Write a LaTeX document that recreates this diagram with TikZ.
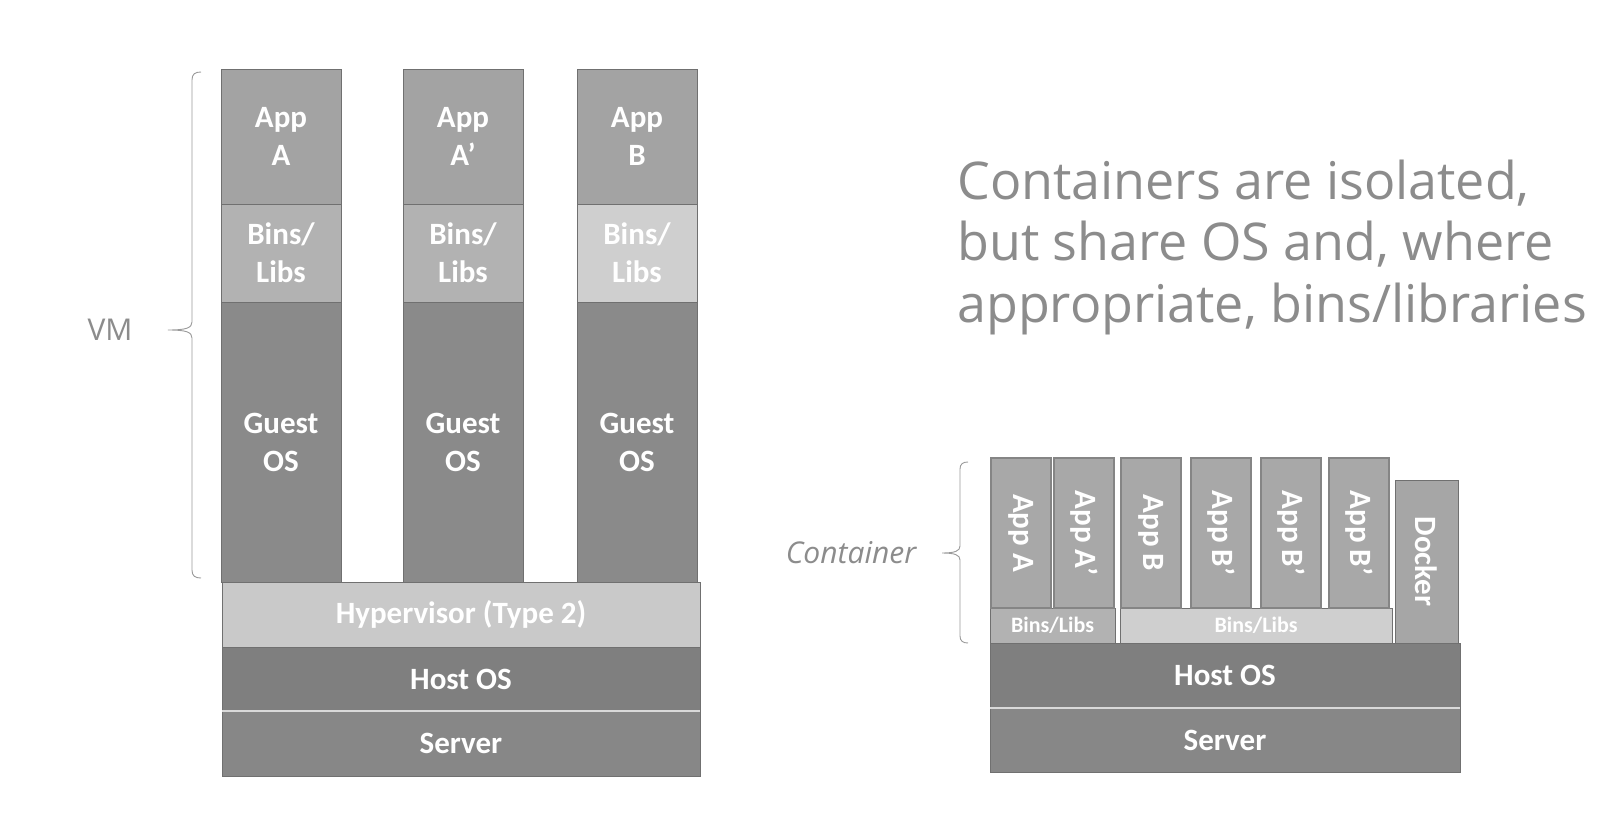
\documentclass[tikz,border=0pt]{standalone}
\usepackage{fontspec}
\setmainfont{Carlito}
\newfontfamily\osfont{Open Sans}
\definecolor{edgec}{HTML}{707070}
\definecolor{appc}{HTML}{A3A3A3}
\definecolor{binc}{HTML}{B2B2B2}
\definecolor{binlt}{HTML}{CFCFCF}
\definecolor{guestc}{HTML}{8A8A8A}
\definecolor{hypc}{HTML}{C9C9C9}
\definecolor{hostc}{HTML}{7F7F7F}
\definecolor{servc}{HTML}{878787}
\definecolor{capp}{HTML}{A8A8A8}
\definecolor{cappedge}{HTML}{858585}
\definecolor{dockc}{HTML}{A6A6A6}
\definecolor{labc}{HTML}{8C8C8C}
\definecolor{bracec}{HTML}{9A9A9A}
\begin{document}
\begin{tikzpicture}[x=1pt,y=-1pt,
  blk/.style={draw=edgec, line width=0.8pt, inner sep=0pt, outer sep=0pt,
    text=white, font=\bfseries\fontsize{31}{38}\selectfont, align=center},
  capbox/.style={blk, draw=cappedge, line width=2pt, fill=capp, rotate=-90,
    minimum width=150pt, minimum height=60pt},
  sidelab/.style={text=labc, font=\osfont\fontsize{30}{36}\selectfont, inner sep=0pt},
  bigtxt/.style={text=labc, font=\osfont\fontsize{52}{62}\selectfont, inner sep=0pt, anchor=base west},
  bracepath/.style={draw=bracec, line width=0.9pt}
]
\useasboundingbox[fill=white] (0,0) rectangle (1608,818);

% ---------- VM stack ----------
\foreach \cx/\nm/\ap/\bc in {281/a/{App\\A}/binc, 463/b/{App\\A'}/binc, 637/c/{App\\B}/binlt}{
  \node[blk, fill=appc, minimum width=120pt, minimum height=135pt] (app\nm) at (\cx,136.5) {\ap};
  \node[blk, fill=\bc, minimum width=120pt, minimum height=98pt] (bins\nm) at (\cx,253) {Bins/\\Libs};
  \node[blk, fill=guestc, minimum width=120pt, minimum height=280pt] (guest\nm) at (\cx,442) {Guest\\OS};
}
\node[blk, fill=hypc, minimum width=478pt, minimum height=65pt] (hyp) at (461,614.5) {Hypervisor (Type 2)};
\node[blk, fill=hostc, minimum width=478pt, minimum height=64pt] (hostl) at (461,679) {Host OS};
\node[blk, fill=servc, minimum width=478pt, minimum height=65pt] (servl) at (461,743.5) {Server};
\draw[white!70!gray, line width=1.5pt] (hostl.south west) -- (hostl.south east);

% VM brace and label
\node[sidelab] (vm) at (110,330) {VM};
\coordinate (vmtip) at (168,330);
\draw[bracepath] (201,72) .. controls (195,72) and (192,74) .. (192,80) -- (192,322)
  .. controls (192,328) and (186,330) .. (vmtip)
  .. controls (186,330) and (192,332) .. (192,338) -- (192,570)
  .. controls (192,576) and (195,578) .. (201,578);

% ---------- Container stack ----------
\node[blk, fill=hostc, minimum width=470pt, minimum height=65pt] (hostr) at (1225,675.5) {Host OS};
\node[blk, fill=servc, minimum width=470pt, minimum height=64pt] (servr) at (1225,740) {Server};
\draw[white!70!gray, line width=1.5pt] (hostr.south west) -- (hostr.south east);

\node[blk, fill=binc, minimum width=125pt, minimum height=35pt, font=\bfseries\fontsize{22}{26}\selectfont] (binsl) at (1052.5,625.5) {Bins/Libs};
\node[blk, fill=binlt, minimum width=272pt, minimum height=35pt, font=\bfseries\fontsize{22}{26}\selectfont] (binsr) at (1256,625.5) {Bins/Libs};
\node[blk, fill=dockc, rotate=-90, minimum width=163pt, minimum height=63pt] (docker) at (1426.5,561.5) {Docker};

\node[capbox] (ca) at (1021,533) {App A};
\node[capbox] (caa) at (1084,533) {App A'};
\node[capbox] (cb) at (1151,533) {App B};
\node[capbox] (cb1) at (1221,533) {App B'};
\node[capbox] (cb2) at (1291,533) {App B'};
\node[capbox] (cb3) at (1359,533) {App B'};

% Container brace and label
\node[sidelab, font=\osfont\itshape\fontsize{30}{36}\selectfont] (cont) at (851,553) {Container};
\coordinate (ctip) at (942,553);
\draw[bracepath] (968,462) .. controls (963,462) and (960,464) .. (960,469) -- (960,546)
  .. controls (960,551) and (955,553) .. (ctip)
  .. controls (955,553) and (960,555) .. (960,560) -- (960,636)
  .. controls (960,641) and (963,643) .. (968,643);

% ---------- Caption ----------
\node[bigtxt] (t1) at (957,200) {Containers are isolated,};
\node[bigtxt] (t2) at (957,261) {but share OS and, where};
\node[bigtxt] (t3) at (957,322) {appropriate, bins/libraries};
\end{tikzpicture}
\end{document}
